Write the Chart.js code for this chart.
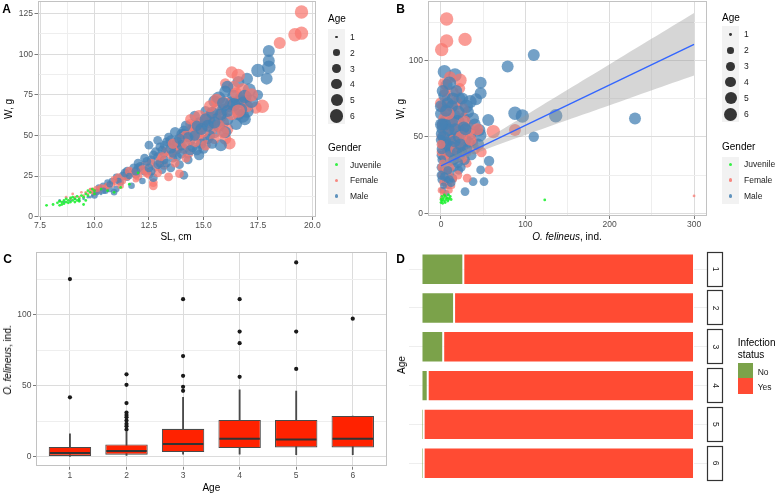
<!DOCTYPE html>
<html><head><meta charset="utf-8">
<script src="https://cdn.jsdelivr.net/npm/chart.js@4"></script>
<style>
body{margin:0;background:#fff;width:776px;height:495px;overflow:hidden;position:relative;font-family:"Liberation Sans",Arial,sans-serif;}
canvas{position:absolute;display:block;}
.t{position:absolute;white-space:nowrap;line-height:1;color:#000;}
.box{position:absolute;}
</style></head><body>
<canvas id="cA" width="390" height="245" style="left:0;top:0"></canvas>
<canvas id="cB" width="386" height="245" style="left:390px;top:0"></canvas>
<canvas id="cC" width="390" height="250" style="left:0;top:245px"></canvas>
<canvas id="cD" width="386" height="250" style="left:390px;top:245px"></canvas>
<script>
// ---------------- DATA ----------------
// Panel A: [SL cm, W g] (juveniles) and [SL cm, W g, age]
const juvenileA = [[7.8,7],[8.1,7.5],[8.3,8.5],[8.4,9.5],[8.5,7.5],[8.5,9],[8.6,10],[8.6,8],[8.7,9],[8.7,11],[8.8,8.5],[8.8,10],[8.9,9],[8.9,11.5],[9.0,10],[9.0,12],[9.1,9],[9.1,11],[9.2,10],[9.2,12.5],[9.3,11],[9.4,13],[9.5,7.5],[9.5,12],[9.6,14],[9.7,13],[9.7,16],[9.8,15],[9.9,17],[10.0,14],[10.0,16],[10.3,17],[10.6,16],[10.9,15],[11.2,18],[11.6,20],[12.0,27],[8.4,7],[9.3,9.5],[9.6,10]];
const femaleA = [[19.5,126,6],[19.2,112,6],[19.5,113,6],[18.5,107,5],[17.7,68,6],[17.4,67,5],[16.3,89,5],[16.6,87,6],[16.4,80,5],[16.0,82,4],[16.9,71,6],[16.7,73,5],[16.1,54,5],[16.2,45,5],[16.0,48,5],[15.9,58,5],[15.6,66,5],[15.3,63,4],[15.0,59,4],[14.7,52,5],[14.6,56,5],[14.5,55,4],[14.4,57,4],[14.8,50,4],[14.9,47,5],[14.2,50,4],[14.1,42,4],[14.3,39,4],[13.9,44,4],[13.7,41,3],[13.9,26.5,3],[13.4,24.5,3],[13.2,31.6,3],[12.8,30.6,3],[12.3,31.6,3],[12.6,33,3],[12.7,21,3],[12.7,19,3],[12.5,26,3],[12.0,25,3],[11.8,27,3],[11.5,25,3],[11.3,22,2],[11.0,21,2],[11.1,24,3],[10.8,20,2],[10.5,18,2],[10.3,18,2],[10.2,16,2],[10.0,15,2],[9.9,16,2],[9.8,17,1],[9.6,15,1],[9.5,13,1],[9.3,12,1],[9.1,12,1],[8.9,11,1],[9.0,14,1],[9.4,15,1],[8.7,12,1],[15.2,61,5],[15.4,54,4],[15.8,62,5],[16.0,70,5],[16.5,76,5],[17.0,68,5],[15.5,48,4],[15.1,44,4],[14.0,48,4],[13.5,38,3],[13.0,35,3],[12.9,27,3],[13.3,40,3],[14.4,60,4],[14.6,46,4],[15.0,52,4],[15.7,56,5],[16.3,63,5],[16.8,78,6],[15.6,72,5],[14.2,36,3],[13.7,33,3],[12.2,29,3],[11.9,23,2],[11.6,28,3],[10.6,19,2],[10.9,23,2],[9.7,14,1],[10.1,17,2],[14.8,62,5],[15.3,68,5],[14.2,45,4],[13.6,45,4],[13.1,37,3],[12.4,27,3],[11.2,19,2],[15.9,52,5],[16.6,65,6],[17.2,75,6]];
const maleA = [[18.0,102,5],[18.0,96,5],[18.0,92,6],[17.5,90,6],[17.9,85,5],[17.0,85,5],[17.5,75,4],[16.6,83,5],[17.0,65,6],[16.8,62,6],[16.3,70,6],[16.6,63,5],[16.9,60,5],[16.0,77,5],[16.1,80,5],[15.5,71,5],[15.7,73,6],[15.1,65,4],[15.3,58,5],[15.0,55,4],[14.8,58,4],[14.5,52,4],[14.1,51,4],[14.1,53,4],[14.4,47,4],[14.0,51,4],[13.6,44,4],[13.2,44,3],[13.3,46,3],[13.2,39,3],[13.8,37,3],[14.1,25.5,3],[13.8,42,4],[13.5,47,4],[13.0,43,3],[12.9,37,3],[12.5,44,3],[12.8,40,3],[12.6,35,3],[12.3,28,3],[12.0,30,3],[11.8,30,3],[11.9,26,3],[11.5,28,3],[11.5,24,2],[11.3,25,3],[11.0,24.5,2],[11.2,21,2],[10.8,22,2],[10.5,16,2],[10.7,17,2],[10.4,19,2],[10.2,18,2],[10.0,13,2],[9.8,12,1],[9.5,11,1],[9.3,10,1],[9.1,11,1],[8.9,10,1],[8.6,9,1],[8.4,10,1],[13.5,30,3],[13.1,29,3],[13.9,32,3],[14.3,35,3],[14.7,41,4],[14.9,45,4],[15.2,48,4],[15.5,52,5],[15.6,60,5],[15.9,66,5],[16.2,68,5],[16.4,74,6],[16.7,71,6],[17.1,78,6],[15.8,44,5],[15.0,42,4],[14.6,62,4],[14.2,56,4],[13.7,52,4],[13.4,49,3],[12.9,47,3],[12.7,24,3],[12.2,22,2],[11.7,19,2],[11.0,17,2],[10.9,15,2],[10.3,14,1],[13.0,33,3],[13.6,36,3],[14.5,43,4],[15.3,50,4],[15.7,56,5],[16.5,57,5],[14.0,39,4],[12.4,34,3],[12.1,31,3],[11.4,27,3],[10.6,21,2],[15.4,64,5],[16.1,60,5],[12.0,33,3],[12.3,36,3],[12.6,28,3],[12.9,32,3],[13.2,35,3],[13.5,42,4],[13.8,46,4],[14.0,44,4],[14.3,49,4],[14.6,50,4],[14.9,54,5],[15.2,56,5],[15.5,58,5],[15.8,63,5],[16.1,65,5],[16.4,69,6],[16.7,66,6],[13.1,41,3],[12.7,38,3],[11.9,28,3],[11.6,25,2],[11.1,22,2],[10.7,20,2],[10.4,16,2],[10.1,15,2],[9.9,13,1],[9.7,12,1],[14.8,38,4],[15.4,45,4],[16.0,52,5],[14.4,41,4],[13.6,39,3],[13.3,33,3],[12.5,30,3],[16.9,74,6],[17.2,71,6],[15.9,70,5],[15.1,60,5],[14.7,56,4],[13.9,48,4]];

// Panel B: [O. felineus ind., W g, age]
const juvenileB = [[0,7,1],[1,8,1],[2,9,1],[3,10,1],[4,8,1],[5,11,1],[6,9,1],[7,10,1],[8,8,1],[9,9,1],[10,10,1],[11,11,1],[12,9,1],[2,6.5,1],[0,9,1],[1,11,1],[5,7,1],[123,8.7,1],[4,12,1],[9,12,1]];
const femaleB = [[6.7,127,6],[0.8,107,6],[6.7,112.6,6],[28.5,113.7,6],[10.7,89,5],[22.5,87,6],[2.8,85,4],[22.5,81.7,4],[14.6,79.5,4],[62,53.4,6],[87.7,54.5,5],[57,28.3,3],[31,23,3],[31,32.7,3],[38,45.8,4],[300,11.3,1],[0,72,5],[2,70,4],[5,68,5],[8,75,5],[12,70,5],[18,72,6],[25,68,6],[3,62,4],[1,58,4],[6,55,5],[10,60,4],[15,58,5],[20,55,5],[28,60,5],[33,55,6],[0,50,3],[4,48,4],[8,45,4],[14,48,4],[22,44,5],[30,40,4],[40,42,4],[0,40,3],[3,38,3],[7,35,3],[12,38,4],[18,35,3],[25,36,4],[1,30,3],[5,28,2],[9,25,3],[15,22,2],[2,20,2],[6,18,2],[0,15,2],[3,13,2],[10,15,2],[20,25,3],[0,25,2],[11,30,3],[17,42,4],[24,50,5],[5,80,4],[9,65,5],[0,45,3],[2,33,2],[13,18,2],[7,10,1],[0,10,1],[48,40,4],[35,48,5],[43,55,5]];
const maleB = [[110,103.5,5],[79,96,5],[4,92.6,6],[16.6,90.4,6],[47,85.4,5],[6.7,84,5],[47,78.4,5],[21.7,75.2,5],[34.4,73,6],[41.5,74.5,5],[87.7,65.4,6],[96.4,63.6,6],[136,63.8,6],[230,62,5],[56,61,5],[45.5,54.5,5],[46,51.2,6],[110,50,4],[57,34.2,4],[47,28.3,3],[38,20.7,3],[51,20.7,3],[28.5,14.2,3],[0,65,5],[3,60,4],[7,62,5],[11,57,5],[16,64,5],[20,60,6],[27,62,5],[32,66,5],[38,62,5],[1,55,4],[5,52,5],[9,50,4],[13,53,5],[18,50,5],[23,54,5],[29,48,5],[35,52,5],[2,45,4],[6,43,4],[10,46,4],[15,42,5],[19,45,4],[26,43,4],[33,46,5],[0,38,3],[4,36,4],[8,40,4],[12,34,3],[17,38,4],[22,37,4],[28,35,4],[0,30,3],[3,28,3],[7,32,3],[11,27,3],[16,30,3],[21,28,3],[1,22,3],[5,20,2],[9,18,2],[14,23,3],[2,15,2],[6,13,2],[0,48,4],[13,70,5],[25,75,5],[18,80,5],[8,72,5],[30,70,6],[4,77,5],[20,66,6],[40,58,5],[44,45,5],[36,38,4],[24,30,3],[1,35,3],[10,22,3],[2,58,5],[12,44,4],[27,56,5],[6,47,4],[0,52,4],[1,42,4],[3,50,5],[5,58,5],[7,45,4],[9,55,5],[11,40,4],[13,60,5],[15,35,4],[17,55,5],[19,40,4],[21,50,5],[23,45,5],[25,40,4],[29,55,5],[31,42,4],[0,70,5],[2,80,5],[10,85,6],[14,75,5],[6,67,5],[0,25,3],[4,24,3],[8,28,3],[12,20,3],[3,18,2],[7,22,2],[0,58,5],[16,47,5],[20,33,4]];
// linear fit and its confidence band
const fitX = [0, 300];
const fitY = [31, 110.5];
const bandX  = [0, 25, 50, 100, 150, 200, 250, 300];
const bandLo = [28.7, 35.0, 41.1, 51.1, 60.9, 70.6, 80.4, 90.0];
const bandHi = [33.3, 40.2, 47.5, 63.9, 80.7, 97.4, 114.2, 131.0];

// Panel C: box plot of O. felineus by age
const boxAges = [1, 2, 3, 4, 5, 6];
const whiskLo = [0, 1.0, 1.9, 1.9, 1.6, 1.6];
const q1      = [0.7, 1.6, 3.5, 6.3, 6.7, 6.7];
const med     = [2.8, 4.2, 9.1, 12.8, 12.3, 12.8];
const q3      = [7.0, 8.8, 19.8, 26.0, 26.0, 28.8];
const whiskHi = [16.3, 17.9, 41.9, 47.2, 46.3, 28.8];
const outliers = [[1,125],[1,41.9],[2,58.1],[2,50.7],[2,37.9],[2,31.2],[2,29.5],[2,27.9],[2,25.6],[2,23.3],[2,21.6],[2,19.3],[3,110.9],[3,70.9],[3,57],[3,49.3],[3,46.5],[4,110.9],[4,88.1],[4,80],[4,56.3],[5,136.7],[5,88.1],[5,61.9],[6,97.2]];

// Panel D: infection status share (%) by age
const infAges  = ['1', '2', '3', '4', '5', '6'];
const shareNo  = [15.1, 11.7, 7.7, 2.0, 0.5, 0.5];
const shareYes = [84.9, 88.3, 92.3, 98.0, 99.5, 99.5];

// tick labels
const aXMajor = [7.5, 10, 12.5, 15, 17.5, 20], aXMinor = [8.75, 11.25, 13.75, 16.25, 18.75];
const aYMajor = [0, 25, 50, 75, 100, 125], aYMinor = [12.5, 37.5, 62.5, 87.5, 112.5];
const bXMajor = [0, 100, 200, 300], bXMinor = [50, 150, 250];
const bYMajor = [0, 50, 100], bYMinor = [25, 75, 125];
const cYMajor = [0, 50, 100], cYMinor = [25, 75, 125];

// ---------------- STYLE ----------------
const FONT = '"Liberation Sans", Arial, sans-serif';
const SIZE_BY_AGE = [1.4, 3.3, 4.4, 5.2, 6.0, 6.7];
const COL = {juv: 'rgba(20,240,40,0.85)', fem: 'rgba(248,118,109,0.72)', male: 'rgba(70,130,180,0.75)'};

const base = {animation:false, responsive:false, events:[], devicePixelRatio:1,
  plugins:{legend:{display:false}, tooltip:{enabled:false}}};

function fitX_(h){ return s => { s.height = h; s.paddingLeft = 0; s.paddingRight = 0; }; }
function fitY_(w){ return s => { s.width = w; s.paddingTop = 0; s.paddingBottom = 0; }; }

function linScale(min, max, majors, minors, fmt, fit, pad){
  const all = majors.concat(minors).sort((a,b)=>a-b);
  const isMajor = v => majors.some(m => Math.abs(m - v) < 1e-9);
  return {
    type:'linear', min, max, bounds:'data', offset:false,
    afterBuildTicks: s => { s.ticks = all.map(v => ({value:v})); },
    afterFit: fit,
    ticks:{autoSkip:false, maxRotation:0, minRotation:0, padding:pad, color:'#4D4D4D',
      font:{family:FONT, size:8.5}, callback: v => isMajor(v) ? fmt(v) : ''},
    grid:{offset:false, lineWidth:1, drawTicks:true, tickLength:3,
      color: c => (c.tick && isMajor(c.tick.value)) ? '#DCDCDC' : '#EEEEEE',
      tickColor: c => (c.tick && isMajor(c.tick.value)) ? '#7A7A7A' : 'rgba(0,0,0,0)'},
    border:{display:false}
  };
}

const borderPlugin = {id:'pborder', afterDatasetsDraw(chart){
  const a = chart.chartArea, c = chart.ctx;
  c.save(); c.strokeStyle = '#C2C2C2'; c.lineWidth = 1;
  c.strokeRect(Math.round(a.left)+0.5, Math.round(a.top)+0.5, Math.round(a.right-a.left)-1, Math.round(a.bottom-a.top)-1);
  c.restore();
}};

// females and males are drawn evenly interleaved (mixed data order), juveniles on top
function mixed(fem, male){
  const out = [];
  male.forEach((p, i) => out.push({k:(i + 0.5) / male.length, x:p[0], y:p[1], age:p[2], col:COL.male}));
  fem.forEach((p, i) => out.push({k:(i + 0.25) / fem.length, x:p[0], y:p[1], age:p[2], col:COL.fem}));
  return out.sort((a, b) => a.k - b.k);
}
const rad = c => SIZE_BY_AGE[((c.raw && c.raw.age) || 1) - 1];
function adultSet(fem, male){
  return {type:'scatter', data:mixed(fem, male), backgroundColor: c => (c.raw ? c.raw.col : COL.male),
    borderWidth:0, pointRadius:rad, pointHoverRadius:rad, clip:0, order:3};
}
function juvSet(arr){
  return {type:'scatter', data:arr.map(p => ({x:p[0], y:p[1], age:p[2] || 1})), backgroundColor:COL.juv,
    borderWidth:0, pointRadius:rad, pointHoverRadius:rad, clip:0, order:2};
}

// ---------------- PANEL A ----------------
new Chart(document.getElementById('cA'), {
  type:'scatter',
  data:{datasets:[adultSet(femaleA, maleA), juvSet(juvenileA)]},
  options:Object.assign({}, base, {
    layout:{autoPadding:false, padding:{left:0, top:1, right:390-315, bottom:0}},
    scales:{
      x: linScale(7.385, 20.12, aXMajor, aXMinor, v => v.toFixed(1), fitX_(245-217), 0.5),
      y: linScale(-0.2, 132.8, aYMajor, aYMinor, v => String(v), fitY_(37.5), 1.5)
    }
  }),
  plugins:[borderPlugin]
});

// ---------------- PANEL B ----------------
new Chart(document.getElementById('cB'), {
  type:'scatter',
  data:{datasets:[
    adultSet(femaleB, maleB), juvSet(juvenileB),
    {type:'line', data:bandX.map((x,i)=>({x, y:bandLo[i]})), borderWidth:0, borderColor:'rgba(0,0,0,0)', pointRadius:0, fill:false, tension:0.3, order:1},
    {type:'line', data:bandX.map((x,i)=>({x, y:bandHi[i]})), borderWidth:0, borderColor:'rgba(0,0,0,0)', pointRadius:0, fill:'-1', backgroundColor:'rgba(153,153,153,0.4)', tension:0.3, order:1},
    {type:'line', data:fitX.map((x,i)=>({x, y:fitY[i]})), borderWidth:1.4, borderColor:'#3366FF', pointRadius:0, fill:false, order:0}
  ]},
  options:Object.assign({}, base, {
    layout:{autoPadding:false, padding:{left:0, top:1, right:386-316.7, bottom:0}},
    scales:{
      x: linScale(-16, 315, bXMajor, bXMinor, v => String(v), fitX_(245-216), 0.5),
      y: linScale(-1.8, 138.8, bYMajor, bYMinor, v => String(v), fitY_(37.5), 1.5)
    }
  }),
  plugins:[borderPlugin]
});

// ---------------- PANEL C ----------------
const medianPlugin = {id:'medians', afterDatasetsDraw(chart){
  const meta = chart.getDatasetMeta(1), y = chart.scales.y, c = chart.ctx;
  c.save(); c.strokeStyle = '#333'; c.lineWidth = 2;
  meta.data.forEach((bar, i) => {
    const py = y.getPixelForValue(med[i]);
    c.beginPath(); c.moveTo(bar.x - bar.width/2 + 1, py); c.lineTo(bar.x + bar.width/2 - 1, py); c.stroke();
  });
  c.restore();
}};
new Chart(document.getElementById('cC'), {
  type:'bar',
  data:{datasets:[
    {label:'whisker', data:boxAges.map((a,i)=>({x:a, y:[whiskLo[i], whiskHi[i]]})), backgroundColor:'#4A4A4A', barThickness:1.2, grouped:false, order:3},
    {label:'box', data:boxAges.map((a,i)=>({x:a, y:[q1[i], q3[i]]})), backgroundColor:'#FF2200', borderColor:'#4A4A4A', borderWidth:1.1, borderSkipped:false, grouped:false, categoryPercentage:1, barPercentage:0.75, order:2},
    {type:'scatter', label:'outliers', data:outliers.map(o=>({x:o[0], y:o[1]})), backgroundColor:'#1A1A1A', borderWidth:0, pointRadius:2.1, order:1}
  ]},
  options:Object.assign({}, base, {
    layout:{autoPadding:false, padding:{left:0, top:7.3, right:390-386.7, bottom:0}},
    scales:{
      x: linScale(0.4, 6.6, boxAges, [], v => String(v), fitX_(250-221.7), 1),
      y: linScale(-6.85, 143.85, cYMajor, cYMinor, v => String(v), fitY_(36), 1.5)
    }
  }),
  plugins:[borderPlugin, medianPlugin]
});

// ---------------- PANEL D ----------------
const stripPlugin = {id:'strips', afterDraw(chart){
  const y = chart.scales.y, c = chart.ctx;
  c.save();
  infAges.forEach((lab, i) => {
    const yc = y.getPixelForValue(i);
    const x0 = 317, w = 16, h = 35;
    c.fillStyle = '#fff'; c.fillRect(x0, yc - h/2, w, h);
    c.strokeStyle = '#333'; c.lineWidth = 1.2; c.strokeRect(x0 + 0.5, Math.round(yc - h/2) + 0.5, w - 1, h - 1);
    c.save(); c.translate(x0 + w/2, yc); c.rotate(Math.PI/2);
    c.fillStyle = '#1A1A1A'; c.font = '8.5px ' + FONT; c.textAlign = 'center'; c.textBaseline = 'middle';
    c.fillText(lab, 0, 0); c.restore();
  });
  c.restore();
}};
new Chart(document.getElementById('cD'), {
  type:'bar',
  data:{labels:infAges, datasets:[
    {label:'No', data:shareNo, backgroundColor:'#7BA24A', borderColor:'#fff', borderWidth:{top:1, bottom:1, left:0, right:1}, borderSkipped:false},
    {label:'Yes', data:shareYes, backgroundColor:'#FF4B33', borderColor:'#fff', borderWidth:1, borderSkipped:false}
  ]},
  options:Object.assign({}, base, {
    indexAxis:'y',
    layout:{autoPadding:false, padding:{left:0, top:4.8, right:386-317.6, bottom:250-237.6}},
    datasets:{bar:{categoryPercentage:1, barPercentage:0.81}},
    scales:{
      x:{stacked:true, min:-5, max:105, display:false},
      y:{stacked:true, offset:true, grid:{offset:false, color:'#EEEEEE', drawTicks:false}, ticks:{display:false}, border:{display:false}, afterFit:fitY_(18.7)}
    }
  }),
  plugins:[stripPlugin]
});

// ---------------- TEXT & LEGENDS (HTML) ----------------
function txt(html, x, y, o){
  o = o || {};
  const d = document.createElement('div');
  d.className = 't'; d.innerHTML = html;
  d.style.left = x + 'px'; d.style.top = y + 'px';
  d.style.fontSize = (o.size || 10) + 'px';
  if (o.bold) d.style.fontWeight = 'bold';
  if (o.color) d.style.color = o.color;
  const ax = o.left ? '0' : '-50%';
  d.style.transform = 'translate(' + ax + ',-50%)' + (o.rot ? ' rotate(-90deg)' : '');
  document.body.appendChild(d);
}
function rect(x, y, w, h, bg){
  const d = document.createElement('div'); d.className = 'box';
  d.style.cssText += 'left:'+x+'px;top:'+y+'px;width:'+w+'px;height:'+h+'px;background:'+bg+';';
  document.body.appendChild(d);
}
function dot(cx, cy, r, bg){
  const d = document.createElement('div'); d.className = 'box';
  d.style.cssText += 'left:'+(cx-r)+'px;top:'+(cy-r)+'px;width:'+(2*r)+'px;height:'+(2*r)+'px;border-radius:50%;background:'+bg+';';
  document.body.appendChild(d);
}
// panel letters
txt('A', 6.5, 9, {size:12, bold:true});
txt('B', 400.5, 8.5, {size:12, bold:true});
txt('C', 7.5, 258.5, {size:12, bold:true});
txt('D', 400.5, 259, {size:12, bold:true});
// axis titles
txt('W, g', 8.5, 109, {rot:true});
txt('SL, cm', 176, 237);
txt('W, g', 401, 109, {rot:true});
txt('<i>O. felineus</i>, ind.', 567, 237);
txt('<i>O. felineus</i>, ind.', 7.5, 359.5, {rot:true});
txt('Age', 211.3, 488);
txt('Age', 401.7, 365, {rot:true});

function scatterLegend(x0, ageTitleY, ageBgTop, ageStep, genderTitleY, genderTop){
  txt('Age', x0, ageTitleY, {left:true});
  rect(x0, ageBgTop, 17, ageStep * 6, '#F2F2F2');
  for (let i = 0; i < 6; i++){
    const cy = ageBgTop + ageStep * (i + 0.5);
    dot(x0 + 8.5, cy, SIZE_BY_AGE[i], 'rgba(0,0,0,0.78)');
    txt(String(i + 1), x0 + 22, cy, {left:true, size:8.5, color:'#1A1A1A'});
  }
  txt('Gender', x0, genderTitleY, {left:true});
  rect(x0, genderTop, 17, 47.4, '#F2F2F2');
  const g = [['Juvenile', COL.juv], ['Female', 'rgba(248,118,109,0.85)'], ['Male', 'rgba(70,130,180,0.85)']];
  g.forEach((e, i) => {
    const cy = genderTop + 15.8 * (i + 0.5);
    dot(x0 + 8.5, cy, 1.8, e[1]);
    txt(e[0], x0 + 22, cy, {left:true, size:8.5, color:'#1A1A1A'});
  });
}
scatterLegend(328, 19, 29, 15.8, 148.3, 156.7);
scatterLegend(722, 18, 26.3, 16, 147, 156.5);

// legend D
txt('Infection', 737.7, 343.3, {left:true});
txt('status', 737.7, 354.5, {left:true});
rect(737.7, 362.7, 15.6, 15.5, '#7BA24A');
rect(737.7, 378.2, 15.6, 15.8, '#FF4B33');
txt('No', 757.7, 371.7, {left:true, size:8.5, color:'#1A1A1A'});
txt('Yes', 757.7, 387.3, {left:true, size:8.5, color:'#1A1A1A'});
</script>
</body></html>
